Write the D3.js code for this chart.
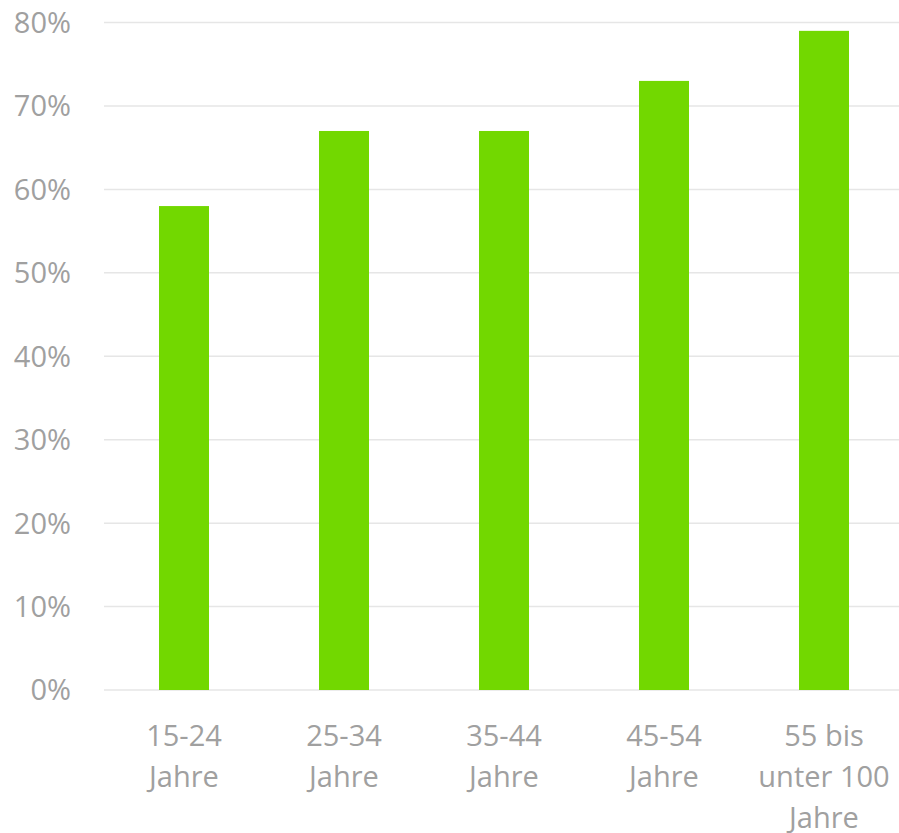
<!DOCTYPE html>
<html>
<head>
<meta charset="utf-8">
<script src="https://cdnjs.cloudflare.com/ajax/libs/d3/7.8.5/d3.min.js"></script>
<style>
  body { margin: 0; background: #fff; }
  svg { display: block; }
  text { font-family: 'Open Sans', sans-serif; fill: #a0a0a0; }
</style>
</head>
<body>
<div id="chart"></div>
<script>

// age groups, each label split into lines
const categories = [
  ["15-24", "Jahre"],
  ["25-34", "Jahre"],
  ["35-44", "Jahre"],
  ["45-54", "Jahre"],
  ["55 bis", "unter 100", "Jahre"]
];
const values = [58, 67, 67, 73, 79];
const yTicks = [0, 10, 20, 30, 40, 50, 60, 70, 80];

const width = 899, height = 833;
const plotLeft = 104, plotRight = 904, plotTop = 22.5, plotBottom = 690;

const svg = d3.select("#chart").append("svg")
  .attr("width", width)
  .attr("height", height);

const x = d3.scaleBand()
  .domain(d3.range(values.length))
  .range([plotLeft, plotRight])
  .paddingInner(0.6875)
  .paddingOuter(0.34375);

const y = d3.scaleLinear()
  .domain([0, 80])
  .range([plotBottom, plotTop]);

// gridlines
svg.append("g")
  .selectAll("line")
  .data(yTicks)
  .join("line")
  .attr("x1", plotLeft)
  .attr("x2", plotRight)
  .attr("y1", d => y(d))
  .attr("y2", d => y(d))
  .attr("stroke", "#e6e6e6")
  .attr("stroke-width", 1.5);

// y labels
svg.append("g")
  .selectAll("text")
  .data(yTicks)
  .join("text")
  .attr("x", 71)
  .attr("y", d => y(d))
  .attr("dy", "0.36em")
  .attr("text-anchor", "end")
  .attr("font-size", 29)
  .text(d => d + "%");

// bars
svg.append("g")
  .selectAll("rect")
  .data(values)
  .join("rect")
  .attr("x", (d, i) => x(i))
  .attr("width", x.bandwidth())
  .attr("y", d => y(d))
  .attr("height", d => y(0) - y(d))
  .attr("fill", "#72d800");

// x labels
const lab = svg.append("g")
  .selectAll("text")
  .data(categories)
  .join("text")
  .attr("text-anchor", "middle")
  .attr("font-size", 29)
  .attr("y", plotBottom + 56);

lab.selectAll("tspan")
  .data((d, i) => d.map(t => ({ t, i })))
  .join("tspan")
  .attr("x", d => x(d.i) + x.bandwidth() / 2)
  .attr("dy", (d, j) => j === 0 ? 0 : 41)
  .text(d => d.t);

</script>
</body>
</html>
